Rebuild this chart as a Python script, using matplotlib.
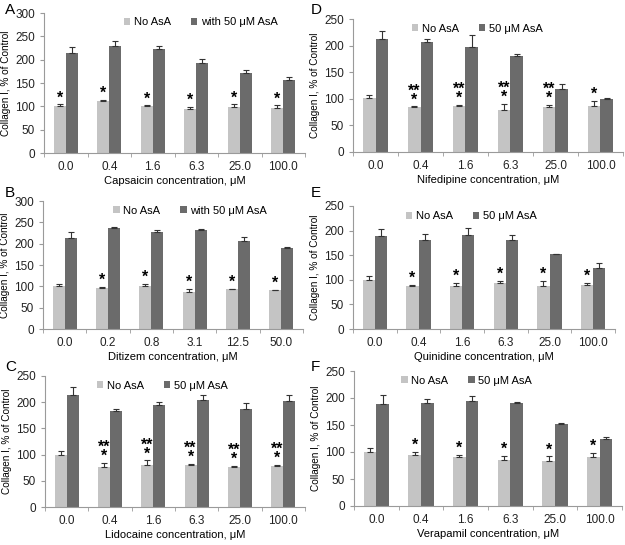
import numpy as np
import matplotlib
matplotlib.use("Agg")
import matplotlib.pyplot as plt
from matplotlib.ticker import MultipleLocator, FixedLocator

plt.rcParams['font.family'] = ['Liberation Sans', 'DejaVu Sans']

conc_std = ["0.0", "0.4", "1.6", "6.3", "25.0", "100.0"]
conc_dit = ["0.0", "0.2", "0.8", "3.1", "12.5", "50.0"]

# A - capsaicin
cap_no = [100, 111, 101, 95, 98, 96]
cap_no_err = [4, 3, 1, 3, 6, 6]
cap_asa = [214, 230, 222, 193, 171, 156]
cap_asa_err = [14, 11, 7, 9, 7, 7]
cap_sig = ["*", "*", "*", "*", "*", "*"]

# B - ditizem
dit_no = [100, 97, 101, 87, 93, 91]
dit_no_err = [5, 2, 4, 7, 1, 1]
dit_asa = [214, 237, 227, 231, 207, 189]
dit_asa_err = [13, 2, 4, 3, 8, 3]
dit_sig = ["", "*", "*", "*", "*", "*"]

# C - lidocaine
lid_no = [100, 77, 81, 80, 76, 78]
lid_no_err = [6, 7, 8, 3, 3, 2]
lid_asa = [213, 183, 194, 204, 187, 202]
lid_asa_err = [16, 4, 7, 9, 11, 12]
lid_sig = ["", "**\n*", "**\n*", "**\n*", "**\n*", "**\n*"]

# D - nifedipine
nif_no = [101, 84, 87, 79, 84, 86]
nif_no_err = [7, 2, 1, 12, 4, 10]
nif_asa = [213, 206, 197, 181, 118, 100]
nif_asa_err = [15, 6, 22, 4, 10, 1]
nif_sig = ["", "**\n*", "**\n*", "**\n*", "**\n*", "*"]

# E - quinidine
qui_no = [100, 88, 88, 94, 88, 90]
qui_no_err = [8, 2, 5, 4, 10, 4]
qui_asa = [189, 180, 191, 181, 152, 124]
qui_asa_err = [15, 13, 15, 10, 1, 10]
qui_sig = ["", "*", "*", "*", "*", "*"]

# F - verapamil
ver_no = [100, 95, 90, 86, 84, 91]
ver_no_err = [8, 5, 5, 7, 8, 7]
ver_asa = [189, 190, 194, 190, 151, 124]
ver_asa_err = [16, 8, 9, 2, 3, 3]
ver_sig = ["", "*", "*", "*", "*", "*"]

light = "#c4c4c4"
dark = "#6b6b6b"
axcol = "#9a9a9a"

W, H = 625, 545
fig = plt.figure(figsize=(6.25, 5.45), dpi=100)


def panel(box, letter, lpos, legx, ticks, no, no_err, asa, asa_err, sig, xlabel, ymax, asa_label):
    x0, y0, x1, y1 = box
    ax = fig.add_axes([x0 / W, 1 - y0 / H, (x1 - x0) / W, (y0 - y1) / H])
    x = np.arange(len(ticks))
    bw = 0.28
    ax.bar(x - bw / 2, no, bw, color=light, label="No AsA", zorder=2)
    ax.bar(x + bw / 2, asa, bw, color=dark, label=asa_label, zorder=2)
    ek = dict(ecolor="#333333", elinewidth=0.8, capsize=2.2, capthick=0.8, fmt="none", zorder=3)
    ax.errorbar(x - bw / 2, no, yerr=[np.zeros(len(no)), no_err], **ek)
    ax.errorbar(x + bw / 2, asa, yerr=[np.zeros(len(asa)), asa_err], **ek)
    for i, s in enumerate(sig):
        if s:
            ax.text(x[i] - bw / 2, no[i] + no_err[i] - 2, s, ha="center", va="bottom",
                    fontsize=11.5, fontweight="bold", linespacing=0.5)
    ax.set_xlim(-0.5, len(ticks) - 0.5)
    ax.set_ylim(0, ymax)
    ax.yaxis.set_major_locator(MultipleLocator(50))
    ax.set_xticks(x)
    ax.set_xticklabels(ticks, fontsize=8.5, color="#222222")
    ax.xaxis.set_minor_locator(FixedLocator(np.arange(-0.5, len(ticks), 1.0)))
    ax.tick_params(axis="x", which="major", length=0, pad=6)
    ax.tick_params(axis="x", which="minor", length=3, color=axcol, direction="out")
    ax.tick_params(axis="y", length=3, color=axcol, labelsize=8.5, labelcolor="#222222")
    for s in ["top", "right"]:
        ax.spines[s].set_visible(False)
    ax.spines["left"].set_color(axcol)
    ax.spines["bottom"].set_color(axcol)
    ax.set_xlabel(xlabel, fontsize=8, labelpad=2)
    ax.set_ylabel("Collagen I, % of Control", fontsize=7.2, labelpad=3)
    ax.legend(loc="upper center", bbox_to_anchor=(legx, 1.04), ncol=2, frameon=False,
              fontsize=8, handlelength=0.6, handleheight=0.6, handletextpad=0.3,
              columnspacing=1.8)
    fig.text(lpos[0] / W, 1 - lpos[1] / H, letter, fontsize=11, va="center", ha="left")
    return ax


panel((44, 153, 305, 13), "A", (5, 10), 0.6, conc_std, cap_no, cap_no_err, cap_asa, cap_asa_err,
      cap_sig, "Capsaicin concentration, μM", 300, "with 50 μM AsA")
panel((43, 329, 303, 201), "B", (5, 193), 0.565, conc_dit, dit_no, dit_no_err, dit_asa, dit_asa_err,
      dit_sig, "Ditizem concentration, μM", 300, "with 50 μM AsA")
panel((45, 507, 305, 376), "C", (5, 367), 0.45, conc_std, lid_no, lid_no_err, lid_asa, lid_asa_err,
      lid_sig, "Lidocaine concentration, μM", 250, "50 μM AsA")
panel((353, 152, 623, 19), "D", (311, 10), 0.46, conc_std, nif_no, nif_no_err, nif_asa, nif_asa_err,
      nif_sig, "Nifedipine concentration, μM", 250, "50 μM AsA")
panel((353, 329, 615, 206), "E", (311, 193), 0.45, conc_std, qui_no, qui_no_err, qui_asa, qui_asa_err,
      qui_sig, "Quinidine concentration, μM", 250, "50 μM AsA")
panel((354, 506, 622, 371), "F", (311, 367), 0.42, conc_std, ver_no, ver_no_err, ver_asa, ver_asa_err,
      ver_sig, "Verapamil concentration, μM", 250, "50 μM AsA")

fig.savefig("out.png", dpi=100)
